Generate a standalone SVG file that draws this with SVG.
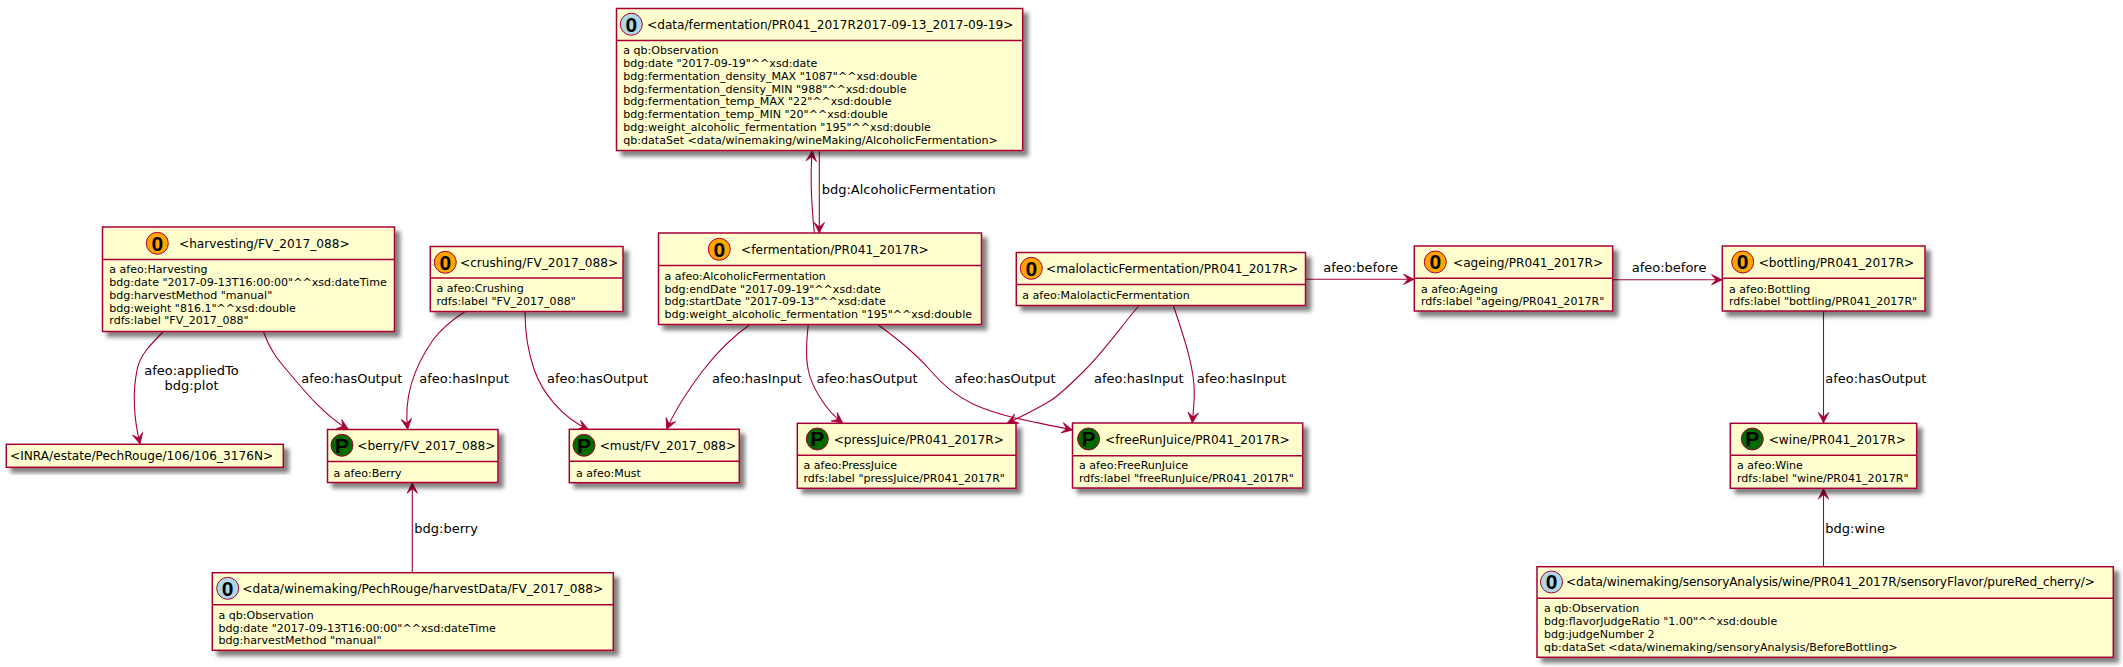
<svg xmlns="http://www.w3.org/2000/svg" width="2123" height="667" viewBox="0 0 2123 667">
<style>
text{font-family:"DejaVu Sans",sans-serif;fill:#000}
.b{fill:#FEFECE;stroke:#A80036;stroke-width:1.5;filter:url(#sh)}
.d{stroke:#A80036;stroke-width:1.5}
.c{stroke:#A80036;stroke-width:1;fill:#FFA500}
.o{fill:#ADD8E6}
.p{fill:#006B00}
.g{font-family:"Liberation Sans",sans-serif;font-weight:bold;font-size:21px;text-anchor:middle}
.t{font-size:12.15px}
.m{font-size:11.05px}
.e{font-size:13px}
.l{fill:none;stroke:#A80036;stroke-width:1.1;marker-end:url(#ah)}
</style>
<defs>
<filter id="sh" x="-10%" y="-20%" width="120%" height="150%"><feGaussianBlur in="SourceAlpha" stdDeviation="2"/><feOffset dx="4.5" dy="4.5"/><feComponentTransfer><feFuncA type="linear" slope="0.5"/></feComponentTransfer><feMerge><feMergeNode/><feMergeNode in="SourceGraphic"/></feMerge></filter>
<marker id="ah" markerUnits="userSpaceOnUse" markerWidth="14" markerHeight="14" refX="12" refY="7" orient="auto"><path d="M1.5,1.8 L12,7 L1.5,12.2 L6,7 Z" fill="#A80036" stroke="#A80036" stroke-width="0.8"/></marker>
</defs>
<g id="connectors">
<path class="l" d="M163,332 C150,345 140,355 137,370 C133,390 133,415 140,444"/>
<path class="l" d="M263.5,332 C270,350 278,360 286.7,370 C305,392 325,416 348.3,429.3"/>
<path class="l" d="M465,311.5 C452,320 441,329 433,340 C412,370 404,400 407.7,429.3"/>
<path class="l" d="M525,311.5 C525,335 528,352 534.3,370 C542,392 562,418 588.3,429.3"/>
<path class="l" d="M750,324.5 C732,337 715,355 703.3,370 C692,385 675,410 666.7,429.3"/>
<path class="l" d="M808.3,324.5 C806,345 806,360 808.3,370 C811,385 825,410 842.7,423"/>
<path class="l" d="M877.7,324.5 C895,337 915,353 930,370 C945,387 955,395 975,405 C1005,418 1040,423 1072.5,430"/>
<path class="l" d="M1139,305.5 C1120,328 1105,350 1085,370 C1070,385 1060,395 1050,401 C1035,410 1020,417 1007.3,423.3"/>
<path class="l" d="M1173.3,305.5 C1185,340 1195,370 1194.3,395 C1194,405 1193,415 1192.3,423"/>
<path class="l" d="M1305.5,279.3 L1414,279.3"/>
<path class="l" d="M1612.7,279.7 L1722,279.7"/>
<path class="l" d="M1823.5,311 L1823.5,423"/>
<path class="l" d="M1823.5,566.7 L1823.5,488.5"/>
<path class="l" d="M412.3,572.7 L412.3,482.7"/>
<path class="l" d="M814.3,233 C811,200 810,175 812.3,150.7"/>
<path class="l" d="M819.3,150.5 L819.3,233"/>
<text class="e" x="191.5" y="374.5" text-anchor="middle">afeo:appliedTo</text>
<text class="e" x="191.5" y="389.5" text-anchor="middle">bdg:plot</text>
<text class="e" x="301.3" y="383">afeo:hasOutput</text>
<text class="e" x="419.3" y="383">afeo:hasInput</text>
<text class="e" x="547" y="383">afeo:hasOutput</text>
<text class="e" x="712" y="383">afeo:hasInput</text>
<text class="e" x="816.5" y="383">afeo:hasOutput</text>
<text class="e" x="954.6" y="383">afeo:hasOutput</text>
<text class="e" x="1094" y="383">afeo:hasInput</text>
<text class="e" x="1196.7" y="383">afeo:hasInput</text>
<text class="e" x="1323.3" y="272">afeo:before</text>
<text class="e" x="1631.7" y="272">afeo:before</text>
<text class="e" x="1825.3" y="383">afeo:hasOutput</text>
<text class="e" x="1825.3" y="532.5">bdg:wine</text>
<text class="e" x="414.3" y="532.5">bdg:berry</text>
<text class="e" x="821.7" y="193.5">bdg:AlcoholicFermentation</text>
</g>
<g id="obs-fermentation">
<rect class="b" x="616.5" y="8.5" width="406.2" height="142"/><path class="d" d="M616.5,40.5H1022.7"/>
<circle class="c o" cx="631.3" cy="24.3" r="11"/><text class="g" x="631.3" y="31.6">0</text>
<text class="t" x="647" y="28.7">&lt;data/fermentation/PR041_2017R2017-09-13_2017-09-19&gt;</text>
<text class="m" x="623.3" y="54">a qb:Observation</text>
<text class="m" x="623.3" y="67">bdg:date "2017-09-19"^^xsd:date</text>
<text class="m" x="623.3" y="80">bdg:fermentation_density_MAX "1087"^^xsd:double</text>
<text class="m" x="623.3" y="93">bdg:fermentation_density_MIN "988"^^xsd:double</text>
<text class="m" x="623.3" y="105">bdg:fermentation_temp_MAX "22"^^xsd:double</text>
<text class="m" x="623.3" y="118">bdg:fermentation_temp_MIN "20"^^xsd:double</text>
<text class="m" x="623.3" y="131">bdg:weight_alcoholic_fermentation "195"^^xsd:double</text>
<text class="m" x="623.3" y="144">qb:dataSet &lt;data/winemaking/wineMaking/AlcoholicFermentation&gt;</text>
</g>
<g id="harvesting">
<rect class="b" x="102.5" y="227" width="292" height="104.5"/><path class="d" d="M102.5,259.5H394.5"/>
<circle class="c" cx="157.3" cy="243.3" r="11"/><text class="g" x="157.3" y="250.6">0</text>
<text class="t" x="179" y="247.7">&lt;harvesting/FV_2017_088&gt;</text>
<text class="m" x="109.3" y="273">a afeo:Harvesting</text>
<text class="m" x="109.3" y="286">bdg:date "2017-09-13T16:00:00"^^xsd:dateTime</text>
<text class="m" x="109.3" y="299">bdg:harvestMethod "manual"</text>
<text class="m" x="109.3" y="312">bdg:weight "816.1"^^xsd:double</text>
<text class="m" x="109.3" y="324">rdfs:label "FV_2017_088"</text>
</g>
<g id="crushing">
<rect class="b" x="430.3" y="246.5" width="192.7" height="65"/><path class="d" d="M430.3,278H623"/>
<circle class="c" cx="445.3" cy="262.3" r="11"/><text class="g" x="445.3" y="269.6">0</text>
<text class="t" x="460" y="266.7">&lt;crushing/FV_2017_088&gt;</text>
<text class="m" x="436.5" y="292">a afeo:Crushing</text>
<text class="m" x="436.5" y="305">rdfs:label "FV_2017_088"</text>
</g>
<g id="fermentation">
<rect class="b" x="658.5" y="233" width="323" height="91.5"/><path class="d" d="M658.5,265.5H981.5"/>
<circle class="c" cx="719.3" cy="249.3" r="11"/><text class="g" x="719.3" y="256.6">0</text>
<text class="t" x="741" y="253.7">&lt;fermentation/PR041_2017R&gt;</text>
<text class="m" x="664.5" y="280">a afeo:AlcoholicFermentation</text>
<text class="m" x="664.5" y="293">bdg:endDate "2017-09-19"^^xsd:date</text>
<text class="m" x="664.5" y="305">bdg:startDate "2017-09-13"^^xsd:date</text>
<text class="m" x="664.5" y="318">bdg:weight_alcoholic_fermentation "195"^^xsd:double</text>
</g>
<g id="malolactic">
<rect class="b" x="1016.3" y="252.5" width="289.2" height="53"/><path class="d" d="M1016.3,284.5H1305.5"/>
<circle class="c" cx="1031.3" cy="268.3" r="11"/><text class="g" x="1031.3" y="275.6">0</text>
<text class="t" x="1046" y="272.7">&lt;malolacticFermentation/PR041_2017R&gt;</text>
<text class="m" x="1022.3" y="299">a afeo:MalolacticFermentation</text>
</g>
<g id="ageing">
<rect class="b" x="1414.3" y="246" width="198.4" height="65"/><path class="d" d="M1414.3,278.3H1612.7"/>
<circle class="c" cx="1435.3" cy="262" r="11"/><text class="g" x="1435.3" y="269.3">0</text>
<text class="t" x="1453" y="266.7">&lt;ageing/PR041_2017R&gt;</text>
<text class="m" x="1421" y="292.5">a afeo:Ageing</text>
<text class="m" x="1421" y="305">rdfs:label "ageing/PR041_2017R"</text>
</g>
<g id="bottling">
<rect class="b" x="1722.3" y="246" width="202.7" height="65"/><path class="d" d="M1722.3,278.3H1925"/>
<circle class="c" cx="1742.7" cy="262" r="11"/><text class="g" x="1742.7" y="269.3">0</text>
<text class="t" x="1758.7" y="266.7">&lt;bottling/PR041_2017R&gt;</text>
<text class="m" x="1729" y="292.5">a afeo:Bottling</text>
<text class="m" x="1729" y="305">rdfs:label "bottling/PR041_2017R"</text>
</g>
<g id="estate">
<rect class="b" x="6.3" y="444.3" width="277" height="23"/>
<text class="t" x="10" y="459.7">&lt;INRA/estate/PechRouge/106/106_3176N&gt;</text>
</g>
<g id="berry">
<rect class="b" x="327.5" y="429.5" width="170.5" height="53"/><path class="d" d="M327.5,461.5H498"/>
<circle class="c p" cx="342" cy="445.3" r="11"/><text class="g" x="342" y="452.6">P</text>
<text class="t" x="357.3" y="449.7">&lt;berry/FV_2017_088&gt;</text>
<text class="m" x="333.5" y="476.5">a afeo:Berry</text>
</g>
<g id="must">
<rect class="b" x="569.3" y="429.3" width="170" height="53.4"/><path class="d" d="M569.3,461.3H739.3"/>
<circle class="c p" cx="584" cy="445.3" r="11"/><text class="g" x="584" y="452.6">P</text>
<text class="t" x="599.7" y="449.7">&lt;must/FV_2017_088&gt;</text>
<text class="m" x="576" y="476.5">a afeo:Must</text>
</g>
<g id="pressJuice">
<rect class="b" x="797.3" y="423.3" width="218.7" height="65"/><path class="d" d="M797.3,455.3H1016"/>
<circle class="c p" cx="817.3" cy="439" r="11"/><text class="g" x="817.3" y="446.3">P</text>
<text class="t" x="833.7" y="443.7">&lt;pressJuice/PR041_2017R&gt;</text>
<text class="m" x="803.5" y="469">a afeo:PressJuice</text>
<text class="m" x="803.5" y="482">rdfs:label "pressJuice/PR041_2017R"</text>
</g>
<g id="freeRunJuice">
<rect class="b" x="1072.5" y="423" width="230.2" height="65"/><path class="d" d="M1072.5,455.7H1302.7"/>
<circle class="c p" cx="1088.6" cy="439" r="11"/><text class="g" x="1088.6" y="446.3">P</text>
<text class="t" x="1105" y="443.7">&lt;freeRunJuice/PR041_2017R&gt;</text>
<text class="m" x="1079" y="469">a afeo:FreeRunJuice</text>
<text class="m" x="1079" y="482">rdfs:label "freeRunJuice/PR041_2017R"</text>
</g>
<g id="wine">
<rect class="b" x="1730.3" y="423.3" width="186.4" height="65"/><path class="d" d="M1730.3,455.3H1916.7"/>
<circle class="c p" cx="1752.3" cy="439" r="11"/><text class="g" x="1752.3" y="446.3">P</text>
<text class="t" x="1768.7" y="443.7">&lt;wine/PR041_2017R&gt;</text>
<text class="m" x="1737" y="469">a afeo:Wine</text>
<text class="m" x="1737" y="482">rdfs:label "wine/PR041_2017R"</text>
</g>
<g id="harvestData">
<rect class="b" x="212.3" y="572.7" width="401" height="77.6"/><path class="d" d="M212.3,604.7H613.3"/>
<circle class="c o" cx="227.7" cy="588.3" r="11"/><text class="g" x="227.7" y="595.6">0</text>
<text class="t" x="242.3" y="592.7">&lt;data/winemaking/PechRouge/harvestData/FV_2017_088&gt;</text>
<text class="m" x="218.5" y="619">a qb:Observation</text>
<text class="m" x="218.5" y="632">bdg:date "2017-09-13T16:00:00"^^xsd:dateTime</text>
<text class="m" x="218.5" y="644">bdg:harvestMethod "manual"</text>
</g>
<g id="sensory">
<rect class="b" x="1537" y="566.7" width="576.3" height="90.6"/><path class="d" d="M1537,598.3H2113.3"/>
<circle class="c o" cx="1551.5" cy="582" r="11"/><text class="g" x="1551.5" y="589.3">0</text>
<text class="t" x="1566" y="586.2" textLength="529" lengthAdjust="spacing">&lt;data/winemaking/sensoryAnalysis/wine/PR041_2017R/sensoryFlavor/pureRed_cherry/&gt;</text>
<text class="m" x="1544" y="612">a qb:Observation</text>
<text class="m" x="1544" y="625">bdg:flavorJudgeRatio "1.00"^^xsd:double</text>
<text class="m" x="1544" y="638">bdg:judgeNumber 2</text>
<text class="m" x="1544" y="651">qb:dataSet &lt;data/winemaking/sensoryAnalysis/BeforeBottling&gt;</text>
</g>
</svg>
